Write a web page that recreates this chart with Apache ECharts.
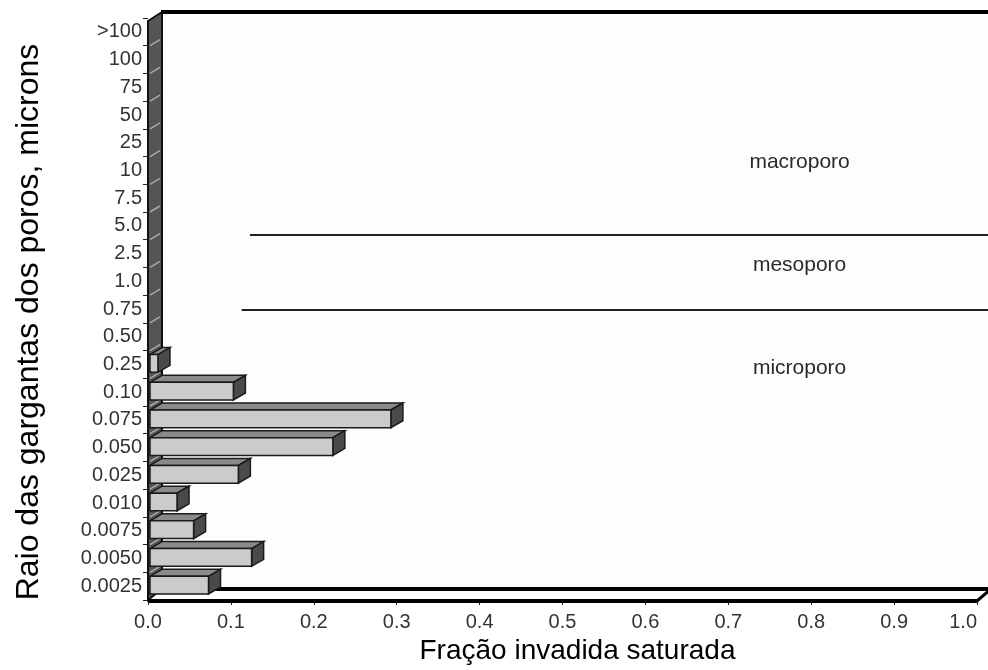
<!DOCTYPE html>
<html>
<head>
<meta charset="utf-8">
<script src="https://cdn.jsdelivr.net/npm/echarts@6/dist/echarts.min.js"></script>
<style>
  html, body { margin: 0; background: #fff; }
  #chart { width: 988px; height: 670px; }
</style>
</head>
<body>
<div id="chart"></div>
<script>
// ── data (bottom to top on the category axis) ──
const radiusLabels = ['0.0025', '0.0050', '0.0075', '0.010', '0.025', '0.050', '0.075', '0.10',
  '0.25', '0.50', '0.75', '1.0', '2.5', '5.0', '7.5', '10', '25', '50', '75', '100', '>100'];
const fractions = [0.073, 0.125, 0.055, 0.035, 0.109, 0.223, 0.293, 0.103,
  0.012, 0, 0, 0, 0, 0, 0, 0, 0, 0, 0, 0, 0];
const xTicks = [0, 0.1, 0.2, 0.3, 0.4, 0.5, 0.6, 0.7, 0.8, 0.9, 1.0];

// pore class limits: start value on x, level in category index units
const limitStart = [0.123, 0.113];
const limitLevel = [12.67, 9.96];
const classNames = ['macroporo', 'mesoporo', 'microporo'];
const classLevel = [15.3, 11.59, 7.87];
const classValue = 0.786;

const FONT = '"Liberation Sans", Arial, sans-serif';
const DX = 12, DY = 7;          // bar depth
const WX = 14, WY = 11;         // wall / floor depth

function levelY(api, level) {
  return api.coord([0, 0])[1] - level * api.size([0, 1])[1];
}

function renderWall(params, api) {
  const cs = params.coordSys;
  const x0 = cs.x, x1 = cs.x + cs.width, yT = cs.y, yB = cs.y + cs.height;
  const band = cs.height / radiusLabels.length;
  const kids = [];
  kids.push({ type: 'polygon',
    shape: { points: [[x0 + WX, yT - 6], [x1 + WX + 20, yT - 6], [x1 + WX + 20, yB - WY], [x0 + WX, yB - WY]] },
    style: { fill: '#fdfdfd' } });
  kids.push({ type: 'polygon',
    shape: { points: [[x0, yT + 3], [x0 + WX, yT - 6], [x0 + WX, yB - WY], [x0, yB]] },
    style: { fill: '#555', stroke: '#111', lineWidth: 2 } });
  for (let i = 1; i < radiusLabels.length; i++) {
    const y = yB - i * band;
    kids.push({ type: 'line', shape: { x1: x0 + 2, y1: y, x2: x0 + WX - 2, y2: y - 6 },
      style: { stroke: '#aaa', lineWidth: 1.5 } });
  }
  kids.push({ type: 'line', shape: { x1: x0 + WX - 1, y1: yT - 6, x2: x1 + WX + 20, y2: yT - 6 },
    style: { stroke: '#000', lineWidth: 4 } });
  kids.push({ type: 'line', shape: { x1: x0 + WX, y1: yB - WY, x2: x1 + WX, y2: yB - WY },
    style: { stroke: '#000', lineWidth: 4 } });
  kids.push({ type: 'line', shape: { x1: x0, y1: yB + 1, x2: x1, y2: yB + 1 },
    style: { stroke: '#000', lineWidth: 4 } });
  kids.push({ type: 'line', shape: { x1: x1, y1: yB + 1, x2: x1 + WX, y2: yB - WY },
    style: { stroke: '#000', lineWidth: 3 } });
  return { type: 'group', children: kids };
}

function renderBar(params, api) {
  const v = api.value(0);
  if (!v) return;
  const idx = api.value(1);
  const base = api.coord([0, idx]);
  const end = api.coord([v, idx]);
  const h = api.size([0, 1])[1] * 0.64;
  const x0 = base[0] + 2, x1 = end[0], y = base[1] - h / 2 - 1;
  const edge = { stroke: '#1a1a1a', lineWidth: 1.5 };
  return {
    type: 'group',
    children: [
      { type: 'polygon', shape: { points: [[x0, y], [x0 + DX, y - DY], [x1 + DX, y - DY], [x1, y]] },
        style: { fill: '#8a8a8a', ...edge } },
      { type: 'polygon', shape: { points: [[x1, y], [x1 + DX, y - DY], [x1 + DX, y + h - DY], [x1, y + h]] },
        style: { fill: '#4a4a4a', ...edge } },
      { type: 'rect', shape: { x: x0, y: y, width: x1 - x0, height: h },
        style: { fill: '#cbcbcb', ...edge } },
    ],
  };
}

function renderLimit(params, api) {
  const cs = params.coordSys;
  const y = levelY(api, limitLevel[params.dataIndex]);
  const xs = api.coord([api.value(0), 0])[0];
  return { type: 'line', shape: { x1: xs, y1: y, x2: cs.x + cs.width + WX + 20, y2: y },
    style: { stroke: '#222', lineWidth: 2 } };
}

function renderClass(params, api) {
  const y = levelY(api, classLevel[params.dataIndex]);
  const x = api.coord([api.value(0), 0])[0];
  return { type: 'text', x: x, y: y,
    style: { text: classNames[params.dataIndex], fill: '#2a2a2a', font: '21px ' + FONT,
      align: 'center', verticalAlign: 'middle' } };
}

const chart = echarts.init(document.getElementById('chart'), null, { renderer: 'canvas' });

chart.setOption({
  animation: false,
  backgroundColor: '#fff',
  grid: { left: 148, right: 11, top: 18, bottom: 70, containLabel: false, outerBoundsMode: 'none' },
  xAxis: {
    type: 'value',
    min: 0, max: 1, interval: 0.1,
    name: 'Fração invadida saturada',
    nameLocation: 'middle',
    nameGap: 34,
    nameTextStyle: { fontFamily: FONT, fontSize: 28, color: '#000', padding: [0, 0, 0, 30] },
    axisLine: { show: false },
    axisTick: { show: true, length: 5, lineStyle: { color: '#222' } },
    axisLabel: {
      fontFamily: FONT, fontSize: 20, color: '#333', margin: 12,
      alignMaxLabel: 'right',
      formatter: v => xTicks.includes(+v.toFixed(1)) ? v.toFixed(1) : '',
    },
    splitLine: { show: false },
  },
  yAxis: {
    type: 'category',
    data: radiusLabels,
    name: 'Raio das gargantas dos poros, microns',
    nameLocation: 'middle',
    nameRotate: 90,
    nameGap: 103,
    nameTextStyle: { fontFamily: FONT, fontSize: 32, color: '#000', padding: [0, 26, 0, 0] },
    axisLine: { show: false },
    axisTick: { show: true, length: 5, lineStyle: { color: '#222' } },
    axisLabel: { fontFamily: FONT, fontSize: 20, color: '#333', margin: 6 },
  },
  series: [
    {
      type: 'custom',
      renderItem: renderWall,
      data: [[0, 0]],
      encode: { x: 0, y: 1 },
      z: 1,
      silent: true,
    },
    {
      type: 'custom',
      renderItem: renderLimit,
      data: limitStart.map(s => [s, 0]),
      encode: { x: 0, y: 1 },
      z: 2,
      silent: true,
    },
    {
      type: 'custom',
      renderItem: renderClass,
      data: classNames.map(() => [classValue, 0]),
      encode: { x: 0, y: 1 },
      z: 3,
      silent: true,
    },
    {
      type: 'custom',
      renderItem: renderBar,
      data: fractions.map((v, i) => [v, i]),
      encode: { x: 0, y: 1 },
      z: 4,
    },
  ],
});
</script>
</body>
</html>
